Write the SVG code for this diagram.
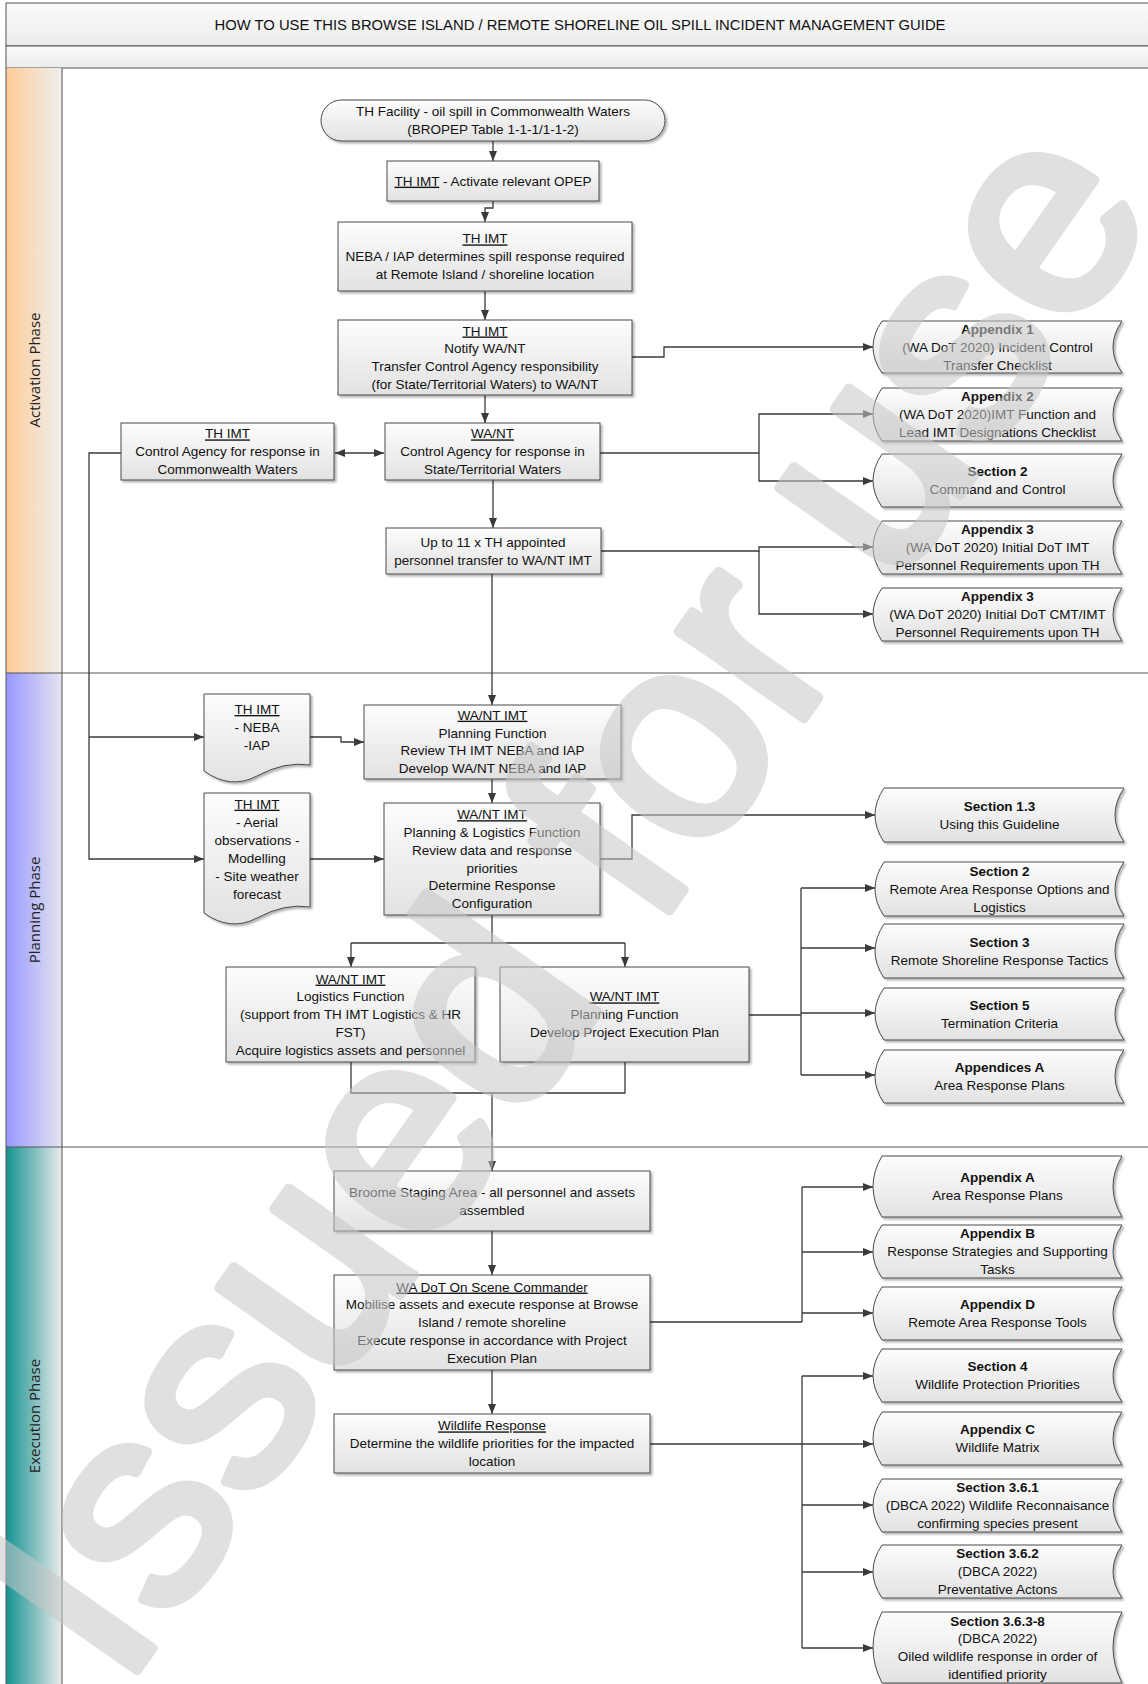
<svg xmlns="http://www.w3.org/2000/svg" width="1148" height="1684" viewBox="0 0 1148 1684">
  <defs>
    <linearGradient id="boxFill" x1="0" y1="0" x2="0" y2="1">
      <stop offset="0" stop-color="#fdfdfd"/>
      <stop offset="1" stop-color="#e2e2e2"/>
    </linearGradient>
    <linearGradient id="hdrFill" x1="0" y1="0" x2="0" y2="1">
      <stop offset="0" stop-color="#fbfbfb"/>
      <stop offset="1" stop-color="#ececec"/>
    </linearGradient>
    <linearGradient id="laneAct" x1="0" y1="0" x2="1" y2="0">
      <stop offset="0" stop-color="#ffcb98"/>
      <stop offset="1" stop-color="#efefee"/>
    </linearGradient>
    <linearGradient id="lanePlan" x1="0" y1="0" x2="1" y2="0">
      <stop offset="0" stop-color="#9898ff"/>
      <stop offset="1" stop-color="#e4e4f0"/>
    </linearGradient>
    <linearGradient id="laneExec" x1="0" y1="0" x2="1" y2="0">
      <stop offset="0" stop-color="#179292"/>
      <stop offset="0.5" stop-color="#7fbdbd"/>
      <stop offset="1" stop-color="#ececec"/>
    </linearGradient>
    <filter id="shadow" x="-5%" y="-5%" width="115%" height="130%">
      <feDropShadow dx="2" dy="2" stdDeviation="1" flood-color="#000" flood-opacity="0.3"/>
    </filter>
    <marker id="arrow" markerWidth="10" markerHeight="8" refX="10" refY="4" orient="auto-start-reverse" markerUnits="userSpaceOnUse">
      <path d="M0,0 L10,4 L0,8 z" fill="#3a3a3a"/>
    </marker>
  </defs>
  <style>
    .box{fill:url(#boxFill);stroke:#4a4a4a;stroke-width:1;filter:url(#shadow)}
    .t{font-family:"Liberation Sans",Arial,sans-serif;font-size:13.5px;fill:#111;text-anchor:middle}
    .b{font-weight:bold}
    .u{text-decoration:underline}
    .c{fill:none;stroke:#3a3a3a;stroke-width:1.3}
    .a{marker-end:url(#arrow)}
    .frame{fill:none;stroke:#555;stroke-width:1}
    .lbl{font-family:"Open Sans","Liberation Sans",sans-serif;font-size:15px;fill:#222;text-anchor:middle}
    .title{font-family:"Liberation Sans",Arial,sans-serif;font-size:14.8px;fill:#111;text-anchor:middle}
    .stamp{font-family:"Liberation Sans",Arial,sans-serif;font-size:288px;fill:#c8c8c8;stroke:#c8c8c8;stroke-width:10;stroke-linejoin:round;opacity:0.55}
  </style>

  <!-- page background -->
  <rect x="0" y="0" width="1148" height="1684" fill="#fff"/>

  <!-- header rows -->
  <g id="header">
    <rect x="6" y="3" width="1150" height="43" fill="url(#hdrFill)" stroke="#555"/>
    <rect x="6" y="46" width="1150" height="22" fill="url(#hdrFill)" stroke="#555"/>
    <text class="title" x="580" y="30">HOW TO USE THIS BROWSE ISLAND / REMOTE SHORELINE OIL SPILL INCIDENT MANAGEMENT GUIDE</text>
  </g>

  <!-- swimlanes -->
  <g id="lanes">
    <rect x="6" y="68" width="56" height="605" fill="url(#laneAct)"/>
    <rect x="6" y="673" width="56" height="474" fill="url(#lanePlan)"/>
    <rect x="6" y="1147" width="56" height="540" fill="url(#laneExec)"/>
    <path class="frame" d="M6,68 V1690 M62,68 V1690 M6,673 H1152 M6,1147 H1152"/>
    <text class="lbl" transform="translate(34.5,370) rotate(-90)" y="5">Activation Phase</text>
    <text class="lbl" transform="translate(34.5,910) rotate(-90)" y="5">Planning Phase</text>
    <text class="lbl" transform="translate(34.5,1416) rotate(-90)" y="5">Execution Phase</text>
  </g>

  <!-- connectors -->
  <g id="connectors">
    <path class="c a" d="M493,141 V161"/>
    <path class="c a" d="M493,201 V208 H485 V222"/>
    <path class="c a" d="M485,291 V320"/>
    <path class="c a" d="M485,395 V423"/>
    <path class="c" d="M335,453 H384" marker-start="url(#arrow)" marker-end="url(#arrow)"/>
    <path class="c a" d="M121,453 H89 V859 H204"/>
    <path class="c a" d="M89,737 H204"/>
    <path class="c a" d="M632,357 H664 V347 H873"/>
    <path class="c" d="M600,453 H759"/>
    <path class="c a" d="M759,453 V414 H873"/>
    <path class="c a" d="M759,453 V481 H873"/>
    <path class="c a" d="M493,480 V528"/>
    <path class="c a" d="M601,551 H759 V547 H873"/>
    <path class="c a" d="M759,551 V614 H873"/>
    <path class="c a" d="M492,574 V705"/>
    <path class="c a" d="M310,737 H341 V742 H364"/>
    <path class="c a" d="M492,779 V803"/>
    <path class="c a" d="M310,859 H384"/>
    <path class="c a" d="M600,859 H632 V815 H875"/>
    <path class="c" d="M492,915 V943 M351,943 H625"/>
    <path class="c a" d="M351,943 V967"/>
    <path class="c a" d="M625,943 V967"/>
    <path class="c" d="M749,1015 H801 M801,888 V1075"/>
    <path class="c a" d="M801,888 H875"/>
    <path class="c a" d="M801,948 H875"/>
    <path class="c a" d="M801,1013 H875"/>
    <path class="c a" d="M801,1075 H875"/>
    <path class="c" d="M351,1062 V1093 H625 V1062"/>
    <path class="c a" d="M492,1093 V1171"/>
    <path class="c a" d="M492,1231 V1275"/>
    <path class="c" d="M650,1322 H802 M802,1187 V1322"/>
    <path class="c a" d="M802,1187 H873"/>
    <path class="c a" d="M802,1252 H873"/>
    <path class="c a" d="M802,1313 H873"/>
    <path class="c a" d="M492,1370 V1414"/>
    <path class="c a" d="M650,1444 H873"/>
    <path class="c" d="M802,1376 V1648"/>
    <path class="c a" d="M802,1376 H873"/>
    <path class="c a" d="M802,1505 H873"/>
    <path class="c a" d="M802,1572 H873"/>
    <path class="c a" d="M802,1648 H873"/>
  </g>

  <!-- activation phase nodes -->
  <g id="start">
    <rect class="box" x="321" y="100" width="344" height="41" rx="20.5"/>
    <text class="t" x="493" y="116.3">TH Facility - oil spill in Commonwealth Waters</text>
    <text class="t" x="493" y="134.1">(BROPEP Table 1-1-1/1-1-2)</text>
  </g>
  <g id="activate-opep">
    <rect class="box" x="387" y="161" width="212" height="40"/>
    <text class="t" x="493" y="185.7"><tspan class="u">TH IMT</tspan> -  Activate relevant OPEP</text>
  </g>
  <g id="th-neba">
    <rect class="box" x="338" y="222" width="294" height="69"/>
    <text class="t" x="485" y="243.4"><tspan class="u">TH IMT</tspan></text>
    <text class="t" x="485" y="261.2">NEBA / IAP determines spill response required</text>
    <text class="t" x="485" y="279">at Remote Island / shoreline location</text>
  </g>
  <g id="th-notify">
    <rect class="box" x="338" y="320" width="294" height="75"/>
    <text class="t" x="485" y="335.5"><tspan class="u">TH IMT</tspan></text>
    <text class="t" x="485" y="353.3">Notify WA/NT</text>
    <text class="t" x="485" y="371.1">Transfer Control Agency responsibility</text>
    <text class="t" x="485" y="388.9">(for State/Territorial Waters) to WA/NT</text>
  </g>
  <g id="wa-control">
    <rect class="box" x="385" y="423" width="215" height="57"/>
    <text class="t" x="492.5" y="438.4"><tspan class="u">WA/NT</tspan></text>
    <text class="t" x="492.5" y="456.2">Control Agency for response in</text>
    <text class="t" x="492.5" y="474">State/Territorial Waters</text>
  </g>
  <g id="th-control">
    <rect class="box" x="121" y="423" width="213" height="57"/>
    <text class="t" x="227.5" y="438.4"><tspan class="u">TH IMT</tspan></text>
    <text class="t" x="227.5" y="456.2">Control Agency for response in</text>
    <text class="t" x="227.5" y="474">Commonwealth Waters</text>
  </g>
  <g id="personnel-transfer">
    <rect class="box" x="386" y="528" width="215" height="46"/>
    <text class="t" x="493" y="546.8">Up to 11 x TH appointed</text>
    <text class="t" x="493" y="564.6">personnel transfer to WA/NT IMT</text>
  </g>

  <g id="ref-appendix-1">
    <path class="box" d="M882,321 H1122 Q1104,347 1122,373 H882 Q864,347 882,321 Z"/>
    <text class="t b" x="997.5" y="333.9">Appendix 1</text>
    <text class="t" x="997.5" y="351.7">(WA DoT 2020) Incident Control</text>
    <text class="t" x="997.5" y="369.5">Transfer Checklist</text>
  </g>
  <g id="ref-appendix-2">
    <path class="box" d="M882,388 H1122 Q1104,414.5 1122,441 H882 Q864,414.5 882,388 Z"/>
    <text class="t b" x="997.5" y="401.4">Appendix 2</text>
    <text class="t" x="997.5" y="419.2">(WA DoT 2020)IMT Function and</text>
    <text class="t" x="997.5" y="437">Lead IMT Designations Checklist</text>
  </g>
  <g id="ref-section-2a">
    <path class="box" d="M882,454 H1122 Q1104,480.5 1122,507 H882 Q864,480.5 882,454 Z"/>
    <text class="t b" x="997.5" y="476.3">Section 2</text>
    <text class="t" x="997.5" y="494.1">Command and Control</text>
  </g>
  <g id="ref-appendix-3a">
    <path class="box" d="M882,521 H1122 Q1104,547.5 1122,574 H882 Q864,547.5 882,521 Z"/>
    <text class="t b" x="997.5" y="534.4">Appendix 3</text>
    <text class="t" x="997.5" y="552.2">(WA DoT 2020) Initial DoT IMT</text>
    <text class="t" x="997.5" y="570">Personnel Requirements upon TH</text>
  </g>
  <g id="ref-appendix-3b">
    <path class="box" d="M882,588 H1122 Q1104,614.5 1122,641 H882 Q864,614.5 882,588 Z"/>
    <text class="t b" x="997.5" y="601.4">Appendix 3</text>
    <text class="t" x="997.5" y="619.2">(WA DoT 2020) Initial DoT CMT/IMT</text>
    <text class="t" x="997.5" y="637">Personnel Requirements upon TH</text>
  </g>

  <!-- planning phase nodes -->
  <g id="doc-neba-iap">
    <path class="box" d="M204,694 H310 V765 Q284.5,761 257,776 Q230.5,790 204,771 Z"/>
    <text class="t" x="257" y="714"><tspan class="u">TH IMT</tspan></text>
    <text class="t" x="257" y="732.4">- NEBA</text>
    <text class="t" x="257" y="750.4">-IAP</text>
  </g>
  <g id="doc-observations">
    <path class="box" d="M204,793 H310 V907 Q284.5,903 257,918 Q230.5,932 204,913 Z"/>
    <text class="t" x="257" y="808.7"><tspan class="u">TH IMT</tspan></text>
    <text class="t" x="257" y="827">- Aerial</text>
    <text class="t" x="257" y="845">observations -</text>
    <text class="t" x="257" y="863">Modelling</text>
    <text class="t" x="257" y="881">- Site weather</text>
    <text class="t" x="257" y="899">forecast</text>
  </g>
  <g id="wa-planning-review">
    <rect class="box" x="364" y="705" width="257" height="74"/>
    <text class="t" x="492.5" y="719.7"><tspan class="u">WA/NT IMT</tspan></text>
    <text class="t" x="492.5" y="738">Planning Function</text>
    <text class="t" x="492.5" y="755.4">Review TH IMT NEBA and IAP</text>
    <text class="t" x="492.5" y="773.4">Develop WA/NT NEBA and IAP</text>
  </g>
  <g id="wa-planning-logistics">
    <rect class="box" x="384" y="803" width="216" height="112"/>
    <text class="t" x="492" y="819.2"><tspan class="u">WA/NT IMT</tspan></text>
    <text class="t" x="492" y="837">Planning  &amp; Logistics Function</text>
    <text class="t" x="492" y="854.8">Review data and response</text>
    <text class="t" x="492" y="872.6">priorities</text>
    <text class="t" x="492" y="890.4">Determine Response</text>
    <text class="t" x="492" y="908.2">Configuration</text>
  </g>
  <g id="wa-logistics">
    <rect class="box" x="226" y="967" width="249" height="95"/>
    <text class="t" x="350.5" y="983.6"><tspan class="u">WA/NT IMT</tspan></text>
    <text class="t" x="350.5" y="1001.4">Logistics Function</text>
    <text class="t" x="350.5" y="1019.2">(support from TH IMT Logistics &amp; HR</text>
    <text class="t" x="350.5" y="1037">FST)</text>
    <text class="t" x="350.5" y="1054.8">Acquire logistics assets and personnel</text>
  </g>
  <g id="wa-planning-pep">
    <rect class="box" x="500" y="967" width="249" height="95"/>
    <text class="t" x="624.5" y="1001.4"><tspan class="u">WA/NT IMT</tspan></text>
    <text class="t" x="624.5" y="1019.2">Planning Function</text>
    <text class="t" x="624.5" y="1037">Develop Project Execution Plan</text>
  </g>

  <g id="ref-section-1-3">
    <path class="box" d="M884,788 H1124 Q1106,815 1124,842 H884 Q866,815 884,788 Z"/>
    <text class="t b" x="999.5" y="810.8">Section 1.3</text>
    <text class="t" x="999.5" y="828.6">Using this Guideline</text>
  </g>
  <g id="ref-section-2b">
    <path class="box" d="M884,862 H1124 Q1106,889 1124,916 H884 Q866,889 884,862 Z"/>
    <text class="t b" x="999.5" y="875.9">Section 2</text>
    <text class="t" x="999.5" y="893.7">Remote Area Response Options and</text>
    <text class="t" x="999.5" y="911.5">Logistics</text>
  </g>
  <g id="ref-section-3">
    <path class="box" d="M884,924 H1124 Q1106,951 1124,978 H884 Q866,951 884,924 Z"/>
    <text class="t b" x="999.5" y="946.8">Section 3</text>
    <text class="t" x="999.5" y="964.6">Remote Shoreline Response Tactics</text>
  </g>
  <g id="ref-section-5">
    <path class="box" d="M884,988 H1124 Q1106,1014 1124,1040 H884 Q866,1014 884,988 Z"/>
    <text class="t b" x="999.5" y="1009.8">Section 5</text>
    <text class="t" x="999.5" y="1027.6">Termination Criteria</text>
  </g>
  <g id="ref-appendices-a">
    <path class="box" d="M884,1050 H1124 Q1106,1076.5 1124,1103 H884 Q866,1076.5 884,1050 Z"/>
    <text class="t b" x="999.5" y="1072.3">Appendices A</text>
    <text class="t" x="999.5" y="1090.1">Area Response Plans</text>
  </g>

  <!-- execution phase nodes -->
  <g id="broome-staging">
    <rect class="box" x="334" y="1171" width="316" height="60"/>
    <text class="t" x="492" y="1196.8">Broome Staging Area - all personnel and assets</text>
    <text class="t" x="492" y="1214.6">assembled</text>
  </g>
  <g id="on-scene-commander">
    <rect class="box" x="334" y="1275" width="316" height="95"/>
    <text class="t" x="492" y="1291.6"><tspan class="u">WA DoT On Scene Commander</tspan></text>
    <text class="t" x="492" y="1309.4">Mobilise assets and execute response at Browse</text>
    <text class="t" x="492" y="1327.2">Island / remote shoreline</text>
    <text class="t" x="492" y="1345">Execute response in accordance with Project</text>
    <text class="t" x="492" y="1362.8">Execution Plan</text>
  </g>
  <g id="wildlife-response">
    <rect class="box" x="334" y="1414" width="316" height="59"/>
    <text class="t" x="492" y="1430.4"><tspan class="u">Wildlife Response</tspan></text>
    <text class="t" x="492" y="1448.2">Determine the wildlife priorities for the impacted</text>
    <text class="t" x="492" y="1466">location</text>
  </g>

  <g id="ref-appendix-a">
    <path class="box" d="M882,1156 H1122 Q1104,1186.5 1122,1217 H882 Q864,1186.5 882,1156 Z"/>
    <text class="t b" x="997.5" y="1182.3">Appendix A</text>
    <text class="t" x="997.5" y="1200.1">Area Response Plans</text>
  </g>
  <g id="ref-appendix-b">
    <path class="box" d="M882,1225 H1122 Q1104,1251.5 1122,1278 H882 Q864,1251.5 882,1225 Z"/>
    <text class="t b" x="997.5" y="1238.4">Appendix B</text>
    <text class="t" x="997.5" y="1256.2">Response Strategies and Supporting</text>
    <text class="t" x="997.5" y="1274">Tasks</text>
  </g>
  <g id="ref-appendix-d">
    <path class="box" d="M882,1287 H1122 Q1104,1313.5 1122,1340 H882 Q864,1313.5 882,1287 Z"/>
    <text class="t b" x="997.5" y="1309.3">Appendix D</text>
    <text class="t" x="997.5" y="1327.1">Remote Area Response Tools</text>
  </g>
  <g id="ref-section-4">
    <path class="box" d="M882,1349 H1122 Q1104,1375.5 1122,1402 H882 Q864,1375.5 882,1349 Z"/>
    <text class="t b" x="997.5" y="1371.3">Section 4</text>
    <text class="t" x="997.5" y="1389.1">Wildlife Protection Priorities</text>
  </g>
  <g id="ref-appendix-c">
    <path class="box" d="M882,1412 H1122 Q1104,1438.5 1122,1465 H882 Q864,1438.5 882,1412 Z"/>
    <text class="t b" x="997.5" y="1434.3">Appendix C</text>
    <text class="t" x="997.5" y="1452.1">Wildlife Matrix</text>
  </g>
  <g id="ref-section-3-6-1">
    <path class="box" d="M882,1479 H1122 Q1104,1505.5 1122,1532 H882 Q864,1505.5 882,1479 Z"/>
    <text class="t b" x="997.5" y="1492.4">Section 3.6.1</text>
    <text class="t" x="997.5" y="1510.2">(DBCA 2022) Wildlife Reconnaisance</text>
    <text class="t" x="997.5" y="1528">confirming species present</text>
  </g>
  <g id="ref-section-3-6-2">
    <path class="box" d="M882,1545 H1122 Q1104,1571.5 1122,1598 H882 Q864,1571.5 882,1545 Z"/>
    <text class="t b" x="997.5" y="1558.4">Section 3.6.2</text>
    <text class="t" x="997.5" y="1576.2">(DBCA 2022)</text>
    <text class="t" x="997.5" y="1594">Preventative Actons</text>
  </g>
  <g id="ref-section-3-6-3-8">
    <path class="box" d="M882,1612 H1122 Q1104,1647.5 1122,1683 H882 Q864,1647.5 882,1612 Z"/>
    <text class="t b" x="997.5" y="1625.5">Section 3.6.3-8</text>
    <text class="t" x="997.5" y="1643.3">(DBCA 2022)</text>
    <text class="t" x="997.5" y="1661.1">Oiled wildlife response in order of</text>
    <text class="t" x="997.5" y="1678.9">identified priority</text>
  </g>

  <!-- document status stamp across the sheet -->
  <text id="stamp" class="stamp" transform="translate(122,1692) rotate(-55)">Issued for use</text>
</svg>
